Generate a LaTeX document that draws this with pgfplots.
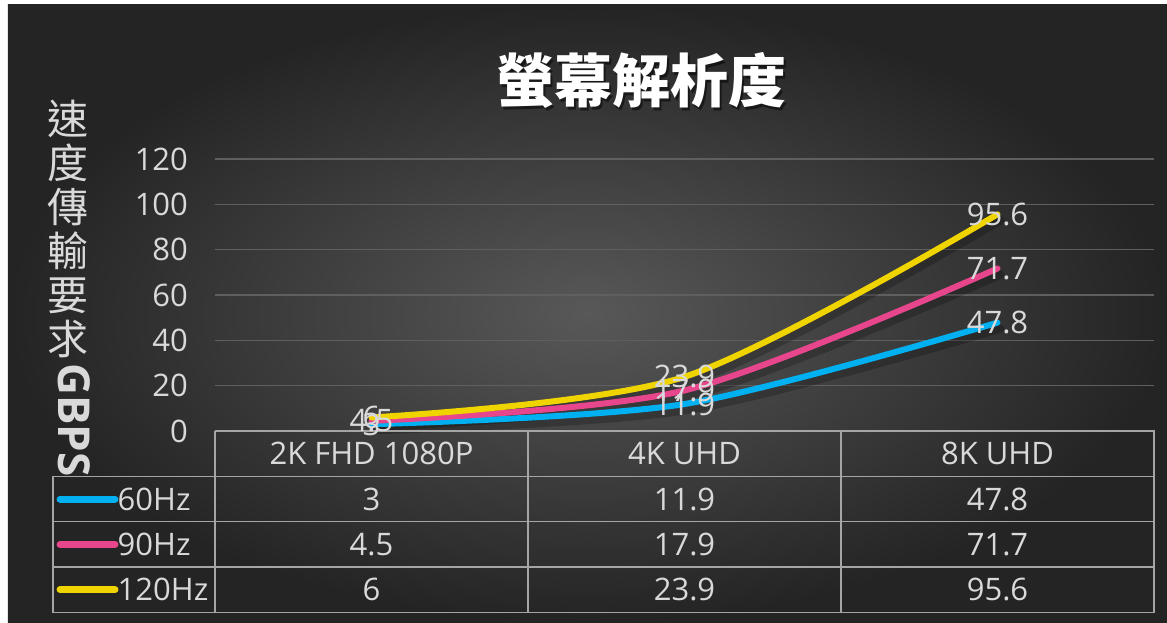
\documentclass[border=0pt]{standalone}
\usepackage{fontspec}
\setmainfont{Open Sans}
\newfontfamily\cjk{Noto Sans CJK TC}
\usepackage{pgfplots}
\usepackage{pgfplotstable}
\pgfplotsset{compat=1.18}

\definecolor{bgin}{RGB}{88,88,88}
\definecolor{bgout}{RGB}{36,36,36}
\definecolor{txt}{RGB}{217,217,217}
\definecolor{gridc}{RGB}{95,95,95}
\definecolor{tabc}{RGB}{165,165,165}
\definecolor{c60}{RGB}{0,176,240}
\definecolor{c90}{RGB}{232,70,140}
\definecolor{c120}{RGB}{240,212,0}

% transfer speed (Gbps) per resolution
\pgfplotstableread{
x f60 f90 f120
0 3 4.5 6
1 11.9 17.9 23.9
2 47.8 71.7 95.6
}\speed

\newcommand\lbl{\fontsize{15.5}{17}\selectfont}

\begin{document}
\begin{tikzpicture}
% background, title, y label (axis box corner sits at the origin)
\begin{scope}[x=1pt, y=1pt, shift={(-107.5pt,-95.5pt)}]
\fill[white] (0,0) rectangle (583.5,311);
\shade[inner color=bgin, outer color=bgout] (4,0) rectangle (583.5,308.5);
\node[black, opacity=0.5, font=\cjk\bfseries\fontsize{29}{31}\selectfont] at (321.5,269.5) {螢幕解析度};
\node[white, font=\cjk\bfseries\fontsize{29}{31}\selectfont] at (320.5,271) {螢幕解析度};
\node[txt, font=\cjk\fontsize{20.5}{22}\selectfont, align=center, anchor=north, inner sep=0]
  at (34,261) {速\\度\\傳\\輸\\要\\求};
\node[txt, font=\bfseries\fontsize{22}{24}\selectfont, rotate=-90, inner sep=0] at (37,101) {GBPS};
\end{scope}

\begin{axis}[
  scale only axis, width=469.5pt, height=136pt,
  xmin=-0.5, xmax=2.5, ymin=0, ymax=120,
  ytick={0,20,...,120}, xtick=\empty,
  axis line style={draw=none}, major tick length=0pt,
  ymajorgrids, grid style={gridc, line width=0.8pt},
  clip=false,
  tick label style={txt, font=\lbl},
  yticklabel style={xshift=-10pt},
  /pgf/number format/assume math mode=true,
]
% line shadows
\addplot[black, opacity=0.22, line width=4pt, smooth, tension=0.5, xshift=1.5pt, yshift=-3pt, forget plot] table[x=x,y=f60]{\speed};
\addplot[black, opacity=0.22, line width=4pt, smooth, tension=0.5, xshift=1.5pt, yshift=-3pt, forget plot] table[x=x,y=f90]{\speed};
\addplot[black, opacity=0.22, line width=4pt, smooth, tension=0.5, xshift=1.5pt, yshift=-3pt, forget plot] table[x=x,y=f120]{\speed};

\pgfplotsset{every axis plot/.append style={smooth, tension=0.5, line width=3pt, line cap=round,
  nodes near coords, every node near coord/.style={anchor=center, txt, font=\lbl}}}
\addplot[c60] table[x=x,y=f60]{\speed};
\addplot[c90] table[x=x,y=f90]{\speed};
\addplot[c120] table[x=x,y=f120]{\speed};

% data table
\draw[tabc, line width=0.8pt]
  (axis cs:-0.5,0) -- (axis cs:2.5,0) -- (axis cs:2.5,-80) -- (axis cs:-1.0176,-80) -- (axis cs:-1.0176,-20) -- (axis cs:2.5,-20)
  (axis cs:-1.0176,-40) -- (axis cs:2.5,-40)
  (axis cs:-1.0176,-60) -- (axis cs:2.5,-60)
  (axis cs:-0.5,0) -- (axis cs:-0.5,-80)
  (axis cs:0.5,0) -- (axis cs:0.5,-80)
  (axis cs:1.5,0) -- (axis cs:1.5,-80);

\begin{scope}[every node/.style={txt, font=\lbl}]
\node at (axis cs:0,-10) {2K FHD 1080P};
\node at (axis cs:1,-10) {4K UHD};
\node at (axis cs:2,-10) {8K UHD};
\node at (axis cs:0,-30) {3};
\node at (axis cs:1,-30) {11.9};
\node at (axis cs:2,-30) {47.8};
\node at (axis cs:0,-50) {4.5};
\node at (axis cs:1,-50) {17.9};
\node at (axis cs:2,-50) {71.7};
\node at (axis cs:0,-70) {6};
\node at (axis cs:1,-70) {23.9};
\node at (axis cs:2,-70) {95.6};
\node[anchor=west, inner sep=0] at (axis cs:-0.812,-30) {60Hz};
\node[anchor=west, inner sep=0] at (axis cs:-0.812,-50) {90Hz};
\node[anchor=west, inner sep=0] at (axis cs:-0.812,-70) {120Hz};
\end{scope}
\draw[c60, line width=3.5pt, line cap=round] (axis cs:-0.995,-30) -- (axis cs:-0.8195,-30);
\draw[c90, line width=3.5pt, line cap=round] (axis cs:-0.995,-50) -- (axis cs:-0.8195,-50);
\draw[c120, line width=3.5pt, line cap=round] (axis cs:-0.995,-70) -- (axis cs:-0.8195,-70);
\end{axis}
\end{tikzpicture}
\end{document}
